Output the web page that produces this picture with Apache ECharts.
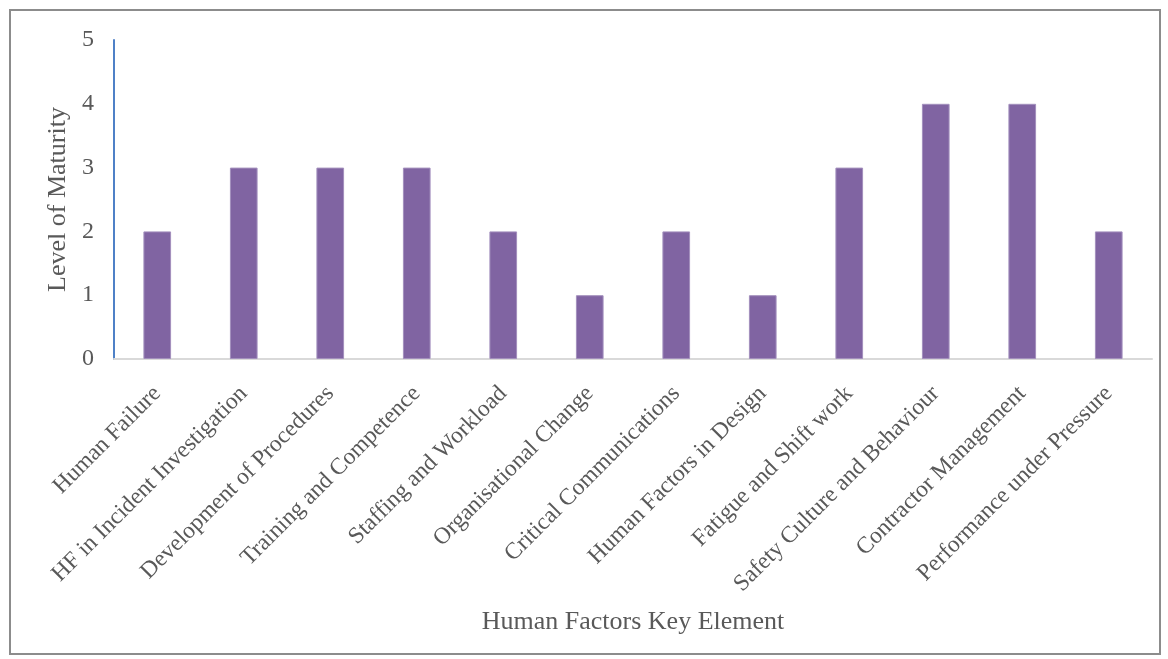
<!DOCTYPE html>
<html>
<head>
<meta charset="utf-8">
<script src="https://cdn.jsdelivr.net/npm/echarts@6/dist/echarts.min.js"></script>
<style>
  html, body { margin: 0; padding: 0; background: #fff; }
  #frame { position: absolute; left: 9px; top: 9px; width: 1152px; height: 646px; border: 2px solid #8c8c8c; box-sizing: border-box; }
  #chart { position: absolute; left: 0; top: 0; width: 1168px; height: 659px; }
</style>
</head>
<body>
<div id="frame"></div>
<div id="chart"></div>
<script>
const categories = [
  'Human Failure',
  'HF in Incident Investigation',
  'Development of Procedures',
  'Training and Competence',
  'Staffing and Workload',
  'Organisational Change',
  'Critical Communications',
  'Human Factors in Design',
  'Fatigue and Shift work',
  'Safety Culture and Behaviour',
  'Contractor Management',
  'Performance under Pressure'
]
const maturity = [2, 3, 3, 3, 2, 1, 2, 1, 3, 4, 4, 2]

const font = '"Liberation Serif", "DejaVu Serif", serif'
const textColor = '#595959'

const chart = echarts.init(document.getElementById('chart'))
chart.setOption({
  animation: false,
  grid: {
    left: 114,
    right: 16,
    top: 40,
    bottom: 300
  },
  xAxis: {
    type: 'category',
    data: categories,
    name: 'Human Factors Key Element',
    nameLocation: 'middle',
    nameGap: 250,
    nameTextStyle: {
      fontFamily: font,
      fontSize: 26,
      color: textColor
    },
    axisLine: {
      show: true,
      lineStyle: { color: '#d9d9d9', width: 2 }
    },
    axisTick: { show: false },
    axisLabel: {
      rotate: 45,
      interval: 0,
      margin: 31,
      fontFamily: font,
      fontSize: 23.5,
      color: textColor
    }
  },
  yAxis: {
    type: 'value',
    min: 0,
    max: 5,
    interval: 1,
    name: 'Level of Maturity',
    nameLocation: 'middle',
    nameGap: 43,
    nameTextStyle: {
      fontFamily: font,
      fontSize: 26,
      color: textColor
    },
    axisLine: {
      show: true,
      lineStyle: { color: '#4f81c7', width: 2 }
    },
    axisTick: { show: false },
    splitLine: { show: false },
    axisLabel: {
      margin: 20,
      fontFamily: font,
      fontSize: 24,
      color: textColor
    }
  },
  series: [{
    type: 'bar',
    data: maturity,
    barWidth: '32%',
    itemStyle: {
      color: '#8064a2',
      borderColor: '#a390bd',
      borderWidth: 1
    }
  }]
})
</script>
</body>
</html>
